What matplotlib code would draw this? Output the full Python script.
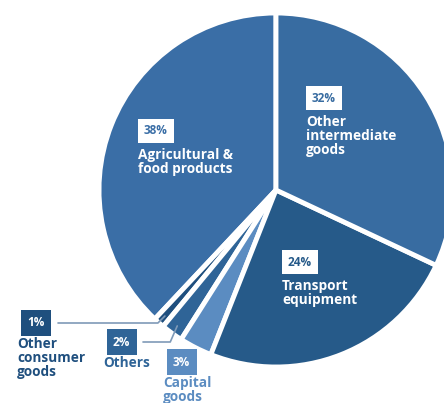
import numpy as np
import matplotlib
matplotlib.use("Agg")
import matplotlib.pyplot as plt

# Reparto por categoría (sentido antihorario desde arriba)
categorias = ["Agricultural &\nfood products", "Other\nconsumer\ngoods", "Others",
              "Capital\ngoods", "Transport\nequipment", "Other\nintermediate\ngoods"]
valores = [38, 1, 2, 3, 24, 32]
etiquetas = ["38%", "1%", "2%", "3%", "24%", "32%"]
colores = ["#3a6ea6", "#1f4f7e", "#2f6497", "#5b8cc1", "#265a89", "#386ca1"]

plt.rcParams['font.family'] = ['Open Sans', 'DejaVu Sans']

fig = plt.figure(figsize=(4.44, 4.03), dpi=100)
ax = fig.add_axes([0, 0, 1, 1])

centro = (276, 213)
radio = 177
cunas, _ = ax.pie(valores, colors=colores, startangle=90, counterclock=True,
                  center=centro, radius=radio, frame=True,
                  wedgeprops=dict(edgecolor='white', linewidth=3.5, joinstyle='round'))
ax.set_xlim(0, 444)
ax.set_ylim(0, 403)
ax.set_aspect('equal')
ax.axis('off')

# etiquetas internas: caja blanca con porcentaje y texto blanco debajo
internas = {0: (137, 403 - 131), 5: (305, 403 - 98), 4: (281, 403 - 262)}
for i, (x, y) in internas.items():
    ax.text(x + 7, y, etiquetas[i], fontsize=8.5, fontweight='bold', color=colores[i],
            va='center', ha='left',
            bbox=dict(boxstyle='square,pad=0.5', fc='white', ec='none'))
    ax.text(x + 1, y - 17, categorias[i], fontsize=9.8, fontweight='bold', color='white',
            va='top', ha='left', linespacing=0.98)

# etiquetas externas con línea guía
externas = {1: (17, 403 - 323), 2: (103, 403 - 342), 3: (163, 403 - 362)}
for i, (x, y) in externas.items():
    ax.text(x + 10, y, etiquetas[i], fontsize=8.5, fontweight='bold', color='white',
            va='center', ha='left',
            bbox=dict(boxstyle='square,pad=0.55', fc=colores[i], ec='none'))
    ax.text(x, y - 14, categorias[i], fontsize=9.8, fontweight='bold', color=colores[i],
            va='top', ha='left', linespacing=0.98)

for i, (xb, yb) in [(1, (58, 403 - 323)), (2, (143, 403 - 342))]:
    ang = np.deg2rad((cunas[i].theta1 + cunas[i].theta2) / 2)
    xe = centro[0] + 168 * np.cos(ang)
    ye = centro[1] + 168 * np.sin(ang)
    ax.plot([xb, xe - 7, xe], [yb, yb, ye], color='#7f9ab8', lw=1.2,
            solid_capstyle='round')

fig.savefig("out.png", dpi=100)
